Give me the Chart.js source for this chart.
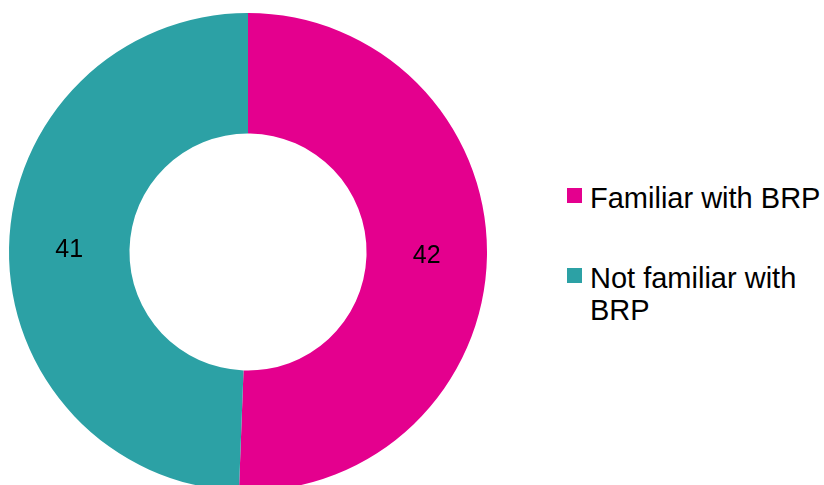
<!DOCTYPE html>
<html>
<head>
<meta charset="utf-8">
<script src="https://cdn.jsdelivr.net/npm/chart.js@4"></script>
<style>
    html, body { margin: 0; padding: 0; background: #fff; }
    body { width: 824px; height: 485px; overflow: hidden; position: relative; font-family: "Liberation Sans", Arial, sans-serif; }
    #wrap { position: absolute; left: 0; top: 0; width: 496px; height: 504px; }
    #legend { position: absolute; left: 567px; top: 0; }
    .item { position: absolute; left: 0; width: 257px; font-size: 29px; line-height: 32px; color: #000; }
    .item .box { position: absolute; left: 0; width: 15px; height: 15px; }
    .item .txt { position: absolute; left: 23px; white-space: nowrap; }
</style>
</head>
<body>
<div id="wrap"><canvas id="donut"></canvas></div>
<div id="legend"></div>
<script>
const categories = ["Familiar with BRP", "Not familiar with BRP"];
const legendLines = [["Familiar with BRP"], ["Not familiar with", "BRP"]];
const counts = [42, 41];
const sliceColors = ["#e4008e", "#2ca1a5"];

// values printed in the middle of each ring segment
const valueLabels = {
    id: "valueLabels",
    afterDatasetsDraw(chart) {
        const { ctx } = chart;
        const meta = chart.getDatasetMeta(0);
        ctx.save();
        ctx.font = "25px 'Liberation Sans', Arial, sans-serif";
        ctx.fillStyle = "#000";
        ctx.textAlign = "center";
        ctx.textBaseline = "middle";
        meta.data.forEach((arc, i) => {
            const pos = arc.tooltipPosition();
            ctx.fillText(String(counts[i]), pos.x, pos.y + 1);
        });
        ctx.restore();
    },
};

new Chart(document.getElementById("donut"), {
    type: "doughnut",
    data: {
        labels: categories,
        datasets: [{
            data: counts,
            backgroundColor: sliceColors,
            borderWidth: 0,
        }],
    },
    options: {
        responsive: true,
        maintainAspectRatio: false,
        animation: false,
        cutout: "49.6%",
        layout: { padding: { left: 9, right: 9, top: 13, bottom: 13 } },
        plugins: {
            legend: { display: false },
            tooltip: { enabled: false },
        },
    },
    plugins: [valueLabels],
});

// legend built from the same arrays
const legendTops = [182, 262];
const legend = document.getElementById("legend");
categories.forEach((name, i) => {
    const item = document.createElement("div");
    item.className = "item";
    item.style.top = legendTops[i] + "px";
    const box = document.createElement("span");
    box.className = "box";
    box.style.background = sliceColors[i];
    box.style.top = "6px";
    const txt = document.createElement("span");
    txt.className = "txt";
    txt.innerHTML = legendLines[i].join("<br>");
    item.appendChild(box);
    item.appendChild(txt);
    legend.appendChild(item);
});
</script>
</body>
</html>
